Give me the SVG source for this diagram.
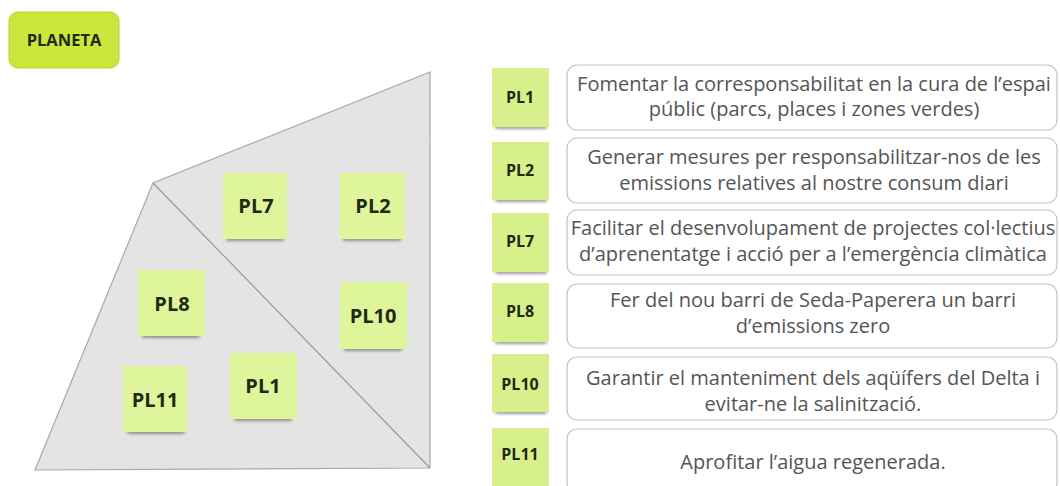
<svg xmlns="http://www.w3.org/2000/svg" width="1060" height="486" viewBox="0 0 1060 486">
<style>
.lbl{font-family:"Open Sans","Liberation Sans",sans-serif;font-weight:700;fill:#1e2a12;text-anchor:middle}
.big{font-size:20px}
.small{font-size:16px}
.desc{font-family:"Open Sans","Liberation Sans",sans-serif;font-size:20px;fill:#555;text-anchor:middle}
.note{fill:#dff59c}
.note2{fill:#d7f08c}
.box{fill:#fff;stroke:#c4c4c4;stroke-width:1.2}
.shadow{fill:#3a3a3a;opacity:0.5;filter:url(#blur)}
</style>
<defs>
<filter id="blur" x="-20%" y="-200%" width="140%" height="500%"><feGaussianBlur stdDeviation="1.5"/></filter>
</defs>
<rect width="1060" height="486" fill="#fff"/>
<g id="planeta">
<rect x="9" y="12" width="110" height="56" rx="9" fill="#cde63c" stroke="#b9d230" stroke-width="1"/>
<text x="64" y="46" class="lbl" style="font-size:16.5px">PLANETA</text>
</g>
<g id="diagram-shape">
<polygon points="430,72 153,183 35,470 430,468" fill="#e4e4e4" stroke="#a8a8a8" stroke-width="1.2"/>
<line x1="153" y1="183" x2="430" y2="468" stroke="#9a9a9a" stroke-width="1.2"/>
</g>
<g id="note-pl7"><rect x="226" y="237" width="58" height="4" rx="2" class="shadow"/><rect x="223" y="173" width="64" height="66" class="note"/><text x="256" y="213" class="lbl big">PL7</text></g>
<g id="note-pl2"><rect x="343" y="237" width="58" height="4" rx="2" class="shadow"/><rect x="340" y="173" width="65" height="66" class="note"/><text x="373" y="213" class="lbl big">PL2</text></g>
<g id="note-pl8"><rect x="142" y="334" width="58" height="4" rx="2" class="shadow"/><rect x="138" y="270" width="67" height="66" class="note"/><text x="172" y="311" class="lbl big">PL8</text></g>
<g id="note-pl10"><rect x="344" y="347" width="58" height="4" rx="2" class="shadow"/><rect x="340" y="282" width="67" height="67" class="note"/><text x="373" y="323" class="lbl big">PL10</text></g>
<g id="note-pl11"><rect x="127" y="430" width="58" height="4" rx="2" class="shadow"/><rect x="123" y="366" width="64" height="66" class="note"/><text x="155" y="407" class="lbl big">PL11</text></g>
<g id="note-pl1"><rect x="234" y="417" width="58" height="4" rx="2" class="shadow"/><rect x="230" y="353" width="67" height="66" class="note"/><text x="263" y="393" class="lbl big">PL1</text></g>

<g id="row-pl1">
<rect x="495" y="125" width="52" height="4" rx="2" class="shadow"/><rect x="492" y="68" width="57" height="59" class="note2"/><text x="520" y="103" class="lbl small">PL1</text>
<rect x="567" y="65" width="490" height="65" rx="10" class="box"/>
<text x="814" y="91" class="desc">Fomentar la corresponsabilitat en la cura de l’espai</text>
<text x="814" y="116" class="desc">públic (parcs, places i zones verdes)</text>
</g>
<g id="row-pl2">
<rect x="495" y="198" width="52" height="4" rx="2" class="shadow"/><rect x="492" y="142" width="57" height="58" class="note2"/><text x="520" y="176" class="lbl small">PL2</text>
<rect x="567" y="138" width="490" height="65" rx="10" class="box"/>
<text x="814" y="164" class="desc">Generar mesures per responsabilitzar-nos de les</text>
<text x="814" y="190" class="desc">emissions relatives al nostre consum diari</text>
</g>
<g id="row-pl7">
<rect x="495" y="270" width="52" height="4" rx="2" class="shadow"/><rect x="492" y="213" width="57" height="59" class="note2"/><text x="520" y="247" class="lbl small">PL7</text>
<rect x="567" y="210" width="490" height="65" rx="10" class="box"/>
<text x="813" y="235" class="desc">Facilitar el desenvolupament de projectes col·lectius</text>
<text x="813" y="261" class="desc">d’aprenentatge i acció per a l’emergència climàtica</text>
</g>
<g id="row-pl8">
<rect x="495" y="340" width="52" height="4" rx="2" class="shadow"/><rect x="492" y="283" width="57" height="59" class="note2"/><text x="520" y="317" class="lbl small">PL8</text>
<rect x="567" y="284" width="490" height="64" rx="10" class="box"/>
<text x="813" y="307" class="desc">Fer del nou barri de Seda-Paperera un barri</text>
<text x="813" y="333" class="desc">d’emissions zero</text>
</g>
<g id="row-pl10">
<rect x="495" y="410" width="52" height="4" rx="2" class="shadow"/><rect x="492" y="354" width="57" height="58" class="note2"/><text x="520" y="390" class="lbl small">PL10</text>
<rect x="567" y="357" width="490" height="63" rx="10" class="box"/>
<text x="813" y="385" class="desc">Garantir el manteniment dels aqüífers del Delta i</text>
<text x="813" y="411" class="desc">evitar-ne la salinització.</text>
</g>
<g id="row-pl11">
<rect x="492" y="428" width="57" height="60" class="note2"/><text x="520" y="460" class="lbl small">PL11</text>
<rect x="567" y="429" width="490" height="64" rx="10" class="box"/>
<text x="813" y="469" class="desc">Aprofitar l’aigua regenerada.</text>
</g>
</svg>
